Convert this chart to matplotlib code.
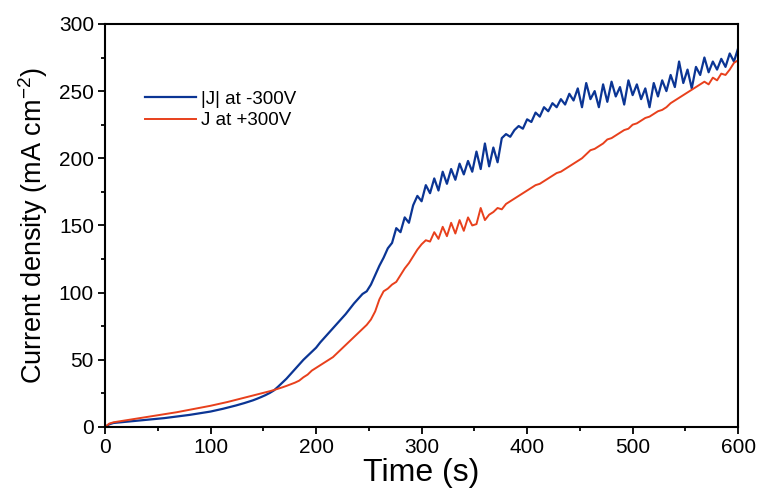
import numpy as np
import matplotlib
matplotlib.use("Agg")
import matplotlib.pyplot as plt
from matplotlib.ticker import MultipleLocator

time_s = list(range(0, 601, 4))

j_neg = [0, 2, 3, 3.3, 3.6, 3.9, 4.2, 4.5, 4.8, 5.1, 5.4, 5.7, 6.0, 6.3, 6.6,
         7.0, 7.4, 7.8, 8.2, 8.6, 9.0, 9.5, 10.0, 10.5, 11.0, 11.5, 12.2, 12.9,
         13.6, 14.4, 15.2, 16.0, 16.9, 17.8, 18.8, 19.8, 21.0, 22.3, 23.7, 25.3,
         27.2, 30, 33, 36, 39.5, 43, 46.5, 50, 53, 56, 59, 63, 66.5, 70, 73.5,
         77, 80.5, 84, 88, 92, 95.5, 99, 101, 106, 113, 120, 126, 133, 137, 148,
         145, 156, 152, 165, 172, 168, 180, 174, 185, 176, 190, 181, 192, 184,
         196, 188, 198, 190, 205, 192, 211, 194, 208, 197, 215, 218, 216, 221,
         224, 222, 229, 227, 234, 231, 238, 235, 241, 238, 244, 240, 248, 243,
         252, 238, 256, 244, 250, 238, 255, 242, 257, 246, 253, 240, 258, 247,
         255, 244, 252, 238, 256, 246, 258, 250, 262, 253, 272, 256, 266, 252,
         268, 262, 275, 264, 272, 266, 274, 268, 278, 272, 282]

j_pos = [0, 2.5, 3.5, 4.0, 4.5, 5.0, 5.5, 6.0, 6.5, 7.0, 7.5, 8.0, 8.5, 9.0,
         9.5, 10.0, 10.5, 11.0, 11.6, 12.2, 12.8, 13.4, 14.0, 14.6, 15.2, 15.8,
         16.5, 17.2, 17.9, 18.6, 19.4, 20.2, 21.0, 21.8, 22.6, 23.4, 24.2, 25.0,
         25.8, 26.6, 27.5, 28.5, 29.5, 30.6, 31.8, 33.0, 34.5, 37, 39, 42, 44,
         46, 48, 50, 52, 55, 58, 61, 64, 67, 70, 73, 76, 80, 86, 95, 101, 103,
         106, 108, 113, 118, 122, 127, 132, 136, 139, 138, 145, 140, 149, 142,
         152, 144, 154, 146, 156, 150, 151, 163, 154, 158, 160, 163, 162, 166,
         168, 170, 172, 174, 176, 178, 180, 181, 183, 185, 187, 189, 190, 192,
         194, 196, 198, 200, 203, 206, 207, 209, 211, 214, 215, 217, 219, 221,
         222, 225, 226, 228, 230, 231, 233, 235, 236, 238, 241, 243, 245, 247,
         249, 251, 253, 255, 257, 255, 260, 258, 263, 262, 266, 271, 273]

plt.rcParams['font.family'] = ['Liberation Sans', 'DejaVu Sans']

fig = plt.figure(figsize=(7.61, 4.88), dpi=100)
ax = fig.add_axes([0.138, 0.125, 0.832, 0.826])

ax.plot(time_s, j_neg, color='#0b3594', lw=1.6, label='|J| at -300V')
ax.plot(time_s, j_pos, color='#e8401c', lw=1.4, label='J at +300V')

ax.set_xlim(0, 600)
ax.set_ylim(0, 300)
ax.xaxis.set_major_locator(MultipleLocator(100))
ax.xaxis.set_minor_locator(MultipleLocator(50))
ax.yaxis.set_major_locator(MultipleLocator(50))
ax.yaxis.set_minor_locator(MultipleLocator(25))
ax.tick_params(which='major', direction='out', length=5, width=1.3, labelsize=15, pad=3)
ax.tick_params(which='minor', direction='out', length=3, width=1.3)
for s in ax.spines.values():
    s.set_linewidth(1.5)

ax.set_xlabel('Time (s)', fontsize=23, labelpad=1)
ax.set_ylabel('Current density (mA cm$^{\\mathregular{-2}}$)', fontsize=19.5, labelpad=6)

ax.legend(loc='upper left', bbox_to_anchor=(0.037, 0.876), frameon=False,
          fontsize=13.5, handlelength=2.7, handletextpad=0.27, labelspacing=0.23)

fig.savefig('out.png', dpi=100)
